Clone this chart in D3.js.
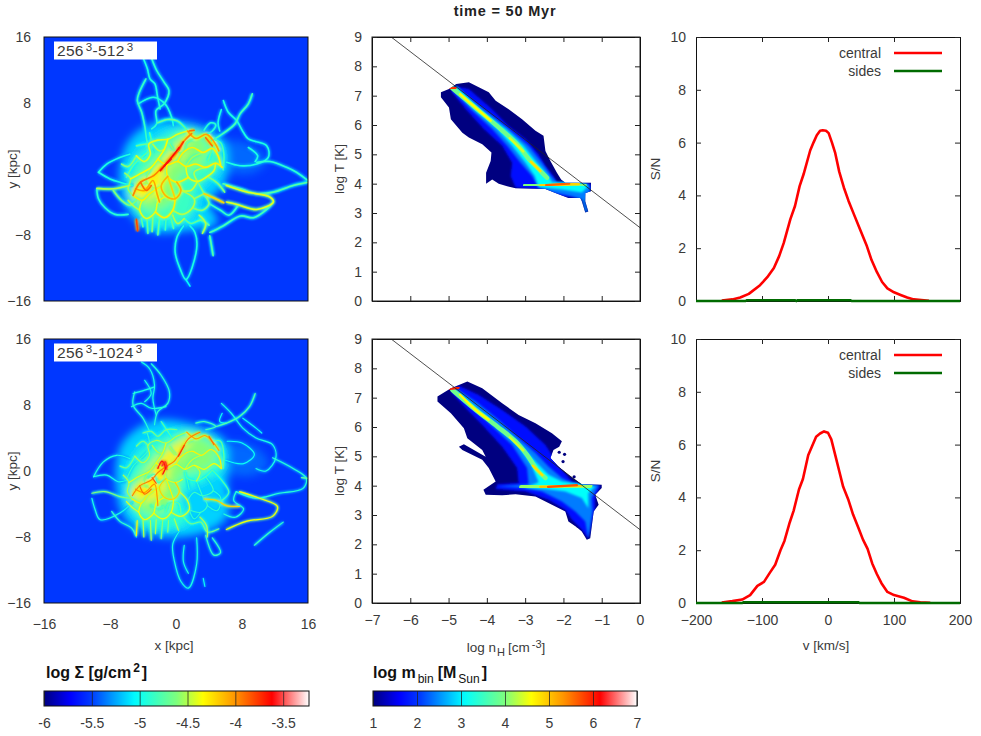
<!DOCTYPE html>
<html>
<head>
<meta charset="utf-8">
<script src="https://cdn.jsdelivr.net/npm/d3@7"></script>
<style>
  body { margin: 0; background: #fff; }
  text { font-family: "Liberation Sans", sans-serif; fill: #3a3a3a; }
  .tick text { font-size: 14px; }
  .domain { stroke: #111; }
  .tick line { stroke: #222; }
  .axisLabel { font-size: 13.5px; text-anchor: middle; }
  .barTitle { font-size: 16px; font-weight: bold; fill: #111; }
</style>
</head>
<body>
<div id="chart"></div>
<script>
// DATA
const title = "time = 50 Myr";
const mapTicks = [-16, -8, 0, 8, 16];
const phaseXTicks = [-7, -6, -5, -4, -3, -2, -1, 0];
const phaseYTicks = [0, 1, 2, 3, 4, 5, 6, 7, 8, 9];
const velTicks = [-200, -100, 0, 100, 200];
const snTicks = [0, 2, 4, 6, 8, 10];
const surfaceTicks = [-6, -5.5, -5, -4.5, -4, -3.5];
const massTicks = [1, 2, 3, 4, 5, 6, 7];

// S/N curves [v, S/N]
const centralTop = [[-161,0.02],[-145,0.06],[-133,0.13],[-120,0.27],[-103,0.6],[-92,0.9],[-82,1.25],[-74,1.7],[-67,2.2],[-57,3.1],[-50,3.6],[-43,4.35],[-37,4.8],[-27,5.7],[-22,6.0],[-17,6.28],[-12,6.45],[-8,6.47],[-3,6.45],[1,6.36],[6,6.0],[11,5.6],[17,4.9],[24,4.3],[31,3.8],[39,3.3],[48,2.75],[59,2.07],[66,1.55],[74,1.1],[82,0.72],[90,0.48],[100,0.33],[110,0.23],[120,0.13],[130,0.06],[153,0.01]];
const centralBottom = [[-161,0.02],[-145,0.07],[-130,0.13],[-118,0.3],[-107,0.65],[-97,0.8],[-88,1.15],[-80,1.45],[-72,2.0],[-66,2.35],[-58,3.05],[-52,3.5],[-44,4.3],[-38,4.7],[-30,5.6],[-24,5.95],[-18,6.3],[-12,6.42],[-6,6.5],[0,6.45],[5,6.2],[11,5.6],[17,5.0],[23,4.4],[31,3.9],[38,3.35],[46,2.85],[53,2.4],[60,2.05],[67,1.5],[74,1.1],[81,0.75],[90,0.42],[100,0.3],[115,0.2],[128,0.06],[140,0.03],[155,0.01]];
const sidesTop = [[-200,0],[-125,0],[-123,0.03],[-50,0.03],[-48,0],[-46,0.03],[34,0.03],[36,0],[200,0]];
const sidesBottom = [[-200,0],[-130,0],[-128,0.03],[46,0.03],[48,0],[200,0]];

// isothermal reference line [log n, log T]
const refLine = [[-6.48,8.98],[0,2.5]];

// phase diagrams: nested outlines [log m, n,T, n,T, ...]
const phaseTop = [
  [1, -4.80,7.40,-4.47,7.46,-4.21,7.29,-3.95,7.12,-3.77,6.83,-3.43,6.54,-3.08,6.20,-2.73,5.80,-2.52,5.63,-2.47,5.11,-2.34,4.77,-2.17,4.37,-2.06,4.14,-1.95,4.03,-1.28,4.03,-1.28,3.74,-1.43,3.68,-1.43,3.40,-1.35,3.05,-1.43,3.02,-1.52,3.40,-1.56,3.51,-1.87,3.51,-2.21,3.68,-2.47,3.82,-3.25,3.84,-3.47,3.91,-3.69,4.00,-3.86,4.14,-4.02,4.00,-4.02,4.37,-3.90,4.77,-3.88,5.06,-4.12,5.34,-4.47,5.57,-4.64,5.74,-4.94,6.20,-4.99,6.60,-5.20,6.95,-5.20,7.12,-4.99,7.23],
  [1.7, -4.83,7.32,-4.47,7.23,-3.86,6.54,-3.43,5.97,-2.99,5.52,-2.65,5.0,-2.47,4.6,-2.26,4.26,-2.17,4.03,-1.52,4.0,-1.29,4.0,-1.29,3.78,-1.52,3.51,-2.04,3.57,-2.43,3.8,-3.25,3.87,-3.38,4.26,-3.34,4.71,-3.6,5.29,-4.08,5.86,-4.55,6.54,-4.94,7.17],
  [2.4, -4.8,7.29,-4.08,6.54,-3.43,5.86,-2.91,5.29,-2.56,4.71,-2.32,4.26,-2.17,4.05,-1.35,4.0,-1.3,3.8,-1.43,3.4,-1.36,3.05,-1.43,3.02,-1.52,3.46,-1.78,3.57,-2.21,3.68,-2.65,3.87,-2.82,4.26,-3.12,4.71,-3.47,5.29,-3.86,5.86,-4.42,6.54,-4.9,7.17],
  [3.1, -4.8,7.32,-4.19,6.54,-3.51,5.86,-3.04,5.29,-2.69,4.71,-2.39,4.26,-2.3,4.05,-1.52,4.03,-1.35,3.91,-1.52,3.7,-2.04,3.8,-2.65,3.89,-2.75,4.26,-2.99,4.71,-3.34,5.29,-3.73,5.86,-4.34,6.54,-4.86,7.23]
];
const phaseBottom = [
  [1, -4.94,7.32,-4.73,7.43,-4.51,7.55,-4.12,7.32,-3.6,6.81,-3.17,6.41,-2.73,6.13,-2.3,5.79,-2.04,5.51,-2.11,5.33,-2.26,5.22,-2.34,4.94,-2.13,4.65,-1.87,4.37,-1.52,4.05,-1.0,4.03,-1.0,3.92,-1.17,3.69,-1.08,3.35,-1.21,3.12,-1.3,2.21,-1.39,2.16,-1.52,2.44,-1.65,2.58,-1.87,2.78,-1.95,3.12,-2.3,3.35,-2.73,3.63,-3.25,3.71,-3.6,3.67,-4.03,3.69,-4.09,3.86,-3.77,4.14,-3.95,4.6,-4.12,4.88,-4.64,5.22,-4.73,5.33,-4.6,5.41,-4.03,4.99,-4.12,5.22,-4.51,5.62,-4.6,5.96,-4.94,6.47,-5.29,6.87,-5.29,7.04],
  [1.7, -4.73,7.41,-4.21,7.09,-3.6,6.58,-2.99,6.02,-2.47,5.39,-2.08,4.6,-1.78,4.14,-1.52,4.03,-1.04,4.01,-1.17,3.58,-1.17,3.23,-1.26,2.78,-1.35,2.19,-1.52,2.5,-1.78,2.84,-1.95,3.18,-2.39,3.52,-2.99,3.8,-3.77,3.89,-3.73,4.05,-3.17,4.09,-3.21,4.6,-3.6,5.33,-4.12,6.07,-4.55,6.64,-4.94,7.19],
  [2.4, -4.8,7.3,-4.29,6.87,-3.69,6.24,-3.17,5.62,-2.73,5.11,-2.39,4.65,-2.04,4.26,-1.78,4.09,-1.08,4.01,-1.26,3.58,-1.24,3.12,-1.35,2.21,-1.43,2.78,-1.69,3.12,-2.04,3.46,-2.56,3.8,-3.17,3.94,-3.73,3.97,-2.91,4.05,-2.95,4.6,-3.34,5.39,-3.86,6.02,-4.38,6.64,-4.9,7.21],
  [3.1, -4.8,7.26,-4.16,6.53,-3.51,5.85,-3.04,5.28,-2.73,4.82,-2.39,4.37,-2.04,4.14,-1.52,4.05,-1.17,3.97,-1.35,3.75,-1.35,3.23,-1.52,3.58,-1.95,3.8,-2.47,3.89,-2.99,3.94,-2.65,4.12,-2.82,4.65,-3.17,5.33,-3.64,5.9,-4.25,6.55,-4.86,7.21]
];
// warm ridges in the phase diagrams [log m, n,T, ...]
const ridgesTop = [
  [3.9, -4.9,7.25,-4.25,6.54,-3.64,5.86,-3.21,5.34,-2.86,4.77,-2.6,4.43,-2.43,4.2],
  [4.6, -4.7,7.05,-4.25,6.54,-3.9,6.15],
  [4.4, -3.4,5.55,-3.05,5.1],
  [4.8, -2.85,4.75,-2.6,4.43],
  [4.0, -3.0,3.93,-1.45,3.97],
  [4.9, -2.6,3.94,-1.6,3.99],
  [5.6, -2.45,3.95,-1.85,4.0],
  [5.9, -4.98,7.25,-4.82,7.27]
];
const ridgesBottom = [
  [3.9, -4.9,7.26,-4.29,6.58,-3.73,6.02,-3.25,5.51,-2.95,5.05,-2.69,4.54,-2.47,4.26],
  [4.6, -4.7,7.1,-4.29,6.58,-3.95,6.25],
  [4.4, -3.4,5.65,-3.05,5.2],
  [4.8, -2.8,4.68,-2.55,4.36],
  [3.2, -3.75,3.97,-2.6,3.97],
  [4.1, -3.1,3.95,-1.3,4.0],
  [5.0, -2.6,3.96,-1.55,4.0],
  [5.7, -2.4,3.96,-1.65,4.02],
  [6.0, -4.96,7.3,-4.74,7.34]
];
// isolated bins of the bottom diagram [log n, log T]
const specksBottom = [[-2.17,5.48],[-2.11,5.14],[-1.97,5.07],[-2.01,4.82],[-1.72,4.3],[-1.62,2.62]];

// surface density map, top: soft patches [log Sigma, x,y, ...]
const patchesTop = [
  [-5.4, 6,3.2,9,3,11,1,9.2,-.5,6,0],
  [-5.15, -6,3,-3,5.5,1.5,5.6,5.8,3.5,6,-1.5,4,-4,5,-6.5,1,-7.5,-3,-7.5,-5.5,-5.5,-6.8,-2.5],
  [-4.85, -5.5,-3,-5,1,-2.5,3.5,1.5,5,5,3,5.3,.3,3,-2,1.5,-6,-3,-6.5,-4.8,-5],
  [-4.6, -5.4,-3.2,-3.6,-.1,-1.5,2,1,4.2,3.5,3.5,3.5,1,.5,-1,-.5,-4,-3,-5],
  [-4.3, -5.3,-3,-4,-1.5,-2,.6,.5,3,1.6,4,.6,1.5,-1,.5,-2,-2.5,-3.8,-3.6]
];
// filaments [log Sigma, x,y, x,y, ...]
const filamentsTop = [
  [-4.95, -3.96,13.4,-3.47,12.15,-3.15,10.93,-2.55,10.32,-2.26,8.91,-1.94,7.29],
  [-4.9, -2.95,13.4,-2.34,11.94,-1.45,10.53,-.85,9.51,-1.45,7.89,-2.42,7.09,-2.34,5.47,-2.95,4.86],
  [-4.85, -3.64,10.93,-4.44,9.31,-4.69,8.3,-4.16,6.88,-3.76,5.06,-3.47,3.24,-2.75,2.02],
  [-4.95, -4.57,7.89,-2.75,8.7,-1.33,7.89,-.53,6.28,-.32,5.26],
  [-4.8, 9.25,9.11,8.77,7.89,7.76,6.68,7.15,5.47,5.33,4.05,4.32,3.44],
  [-4.95, 5.74,8.3,6.34,6.88,7.35,5.87,8.16,4.45,8.77,3.64,10.99,2.83,11.19,1.42,9.78,.61,7.76,.4,6.14,.81],
  [-4.95, 5.5,7.2,5.1,5.6,5.3,4.6],
  [-4.95, 8.77,2.6,9.9,1.6,9.6,.9],
  [-4.9, 16,-1.42,14.6,-.4,13.4,.2,11.4,.9,9.8,.8],
  [-4.75, 16,-1.6,14.2,-2,11.8,-2.8,9.8,-3,7.8,-2.4,5.7,-1.8],
  [-4.4, 6.1,-2,8.6,-2.8,11.4,-3.4,11.8,-4,9.8,-4.9,7.4,-4.3,6.1,-4],
  [-4.8, 11.8,-4,11,-4.9,9.4,-5.9,7.8,-5.7,5.7,-6.9,4.1,-7.7],
  [-4.95, -9.4,-.4,-8.4,.6,-6.8,1.4,-5.6,1.8],
  [-4.95, -9.4,-.4,-8,-1.2,-6.8,-1.6,-5.2,-2],
  [-4.9, -9.6,-2.4,-9.4,-3.6,-8.6,-4.7,-7.4,-5.5,-5.8,-5.5],
  [-4.5, -9.6,-2.35,-7.6,-2.4,-5.6,-2],
  [-4.6, -7.6,-2.6,-6.6,-3.8,-5.6,-4.4,-4.8,-3.8],
  [-4.95, .9,-6.9,.1,-8.3,-.1,-10.1,.5,-12.1,1.2,-13.4,2.5,-9.7,2.3,-7.7,1.7,-6.9],
  [-5.05, 1.2,-13.4,1.7,-14.2],
  [-4.75, 4.1,-8.1,4.5,-10.5],
  [-3.8, -4.8,-6.1,-4.65,-7.5],
  [-4.7, -3.5,-6,-3.4,-7.8],[-4.6, -2.8,-5.8,-2.9,-7.6],[-4.7, -2,-6,-2.2,-8],[-4.8, -1.2,-6,-1.3,-7.4],[-4.7, -.6,-6,-.3,-7.2],[-4.75, -4.2,-6,-4,-7],
  [-4.7, 1,-6,1.8,-6.6,3,-6.2,4,-6.8],
  [-4.5, -.4,-5.6,.2,-6.6,1,-6],
  [-4.5, 2.8,-5.6,3.6,-6.6,3.2,-7.8],
  [-4.85, 4,-4.2,5.4,-5,6.4,-5.6,7.6,-4.3],
  [-4.9, 3.4,4.7,4.2,5.6,4.8,5.4,4.4,4.6,3.7,4.2],
  [-4.7, 1.4,4.6,.2,5.8,-1,6,-2.2,5.6],
  [-4.8, 4.3,3.6,5.4,3.2,5.8,1.8,5.7,-.1],
  [-4.75, -6,-1,-5.2,.4,-4.2,1.4,-3,2.6,-3.2,4.4],
  // web of the disc
  [-4.35, -5.5,-1.2,-4.2,-.5,-3,.2,-2.2,1.2,-1.4,2.4,-1,3.6],
  [-4.4, -4.8,1.6,-3.8,.9,-3.1,1.8,-3.3,3,-2.2,3.5,-1,3.6,.2,4.2,1.4,4.6],
  [-4.3, -2.2,1.2,-1.1,.5,.2,.9,1.2,.3,2.4,.6,3.6,.2,4.8,.7,5.6,.2],
  [-4.3, .2,.9,.9,2,2,2.6,3.3,2,4.4,2.5,5.1,1.6,5.4,.5],
  [-4.05, 1.4,4.6,2.4,3.7,3.7,4.2,4.6,3.3,5.2,2.2],
  [-4.4, 1.2,.3,1.5,-1,2.6,-1.5,3.8,-.9,4.6,-.2,4.8,.7],
  [-4.3, -1.1,.5,-1,-.9,.1,-1.6,1.5,-1],
  [-4.1, -1,-.9,-1.8,-2.1,-1.2,-3.3,-.1,-3.6,.6,-2.6,.1,-1.6],
  [-4.3, -5.2,-3.2,-4.1,-3.8,-3.2,-3,-1.8,-2.1],
  [-4.4, -4.1,-3.8,-4.4,-5,-3.6,-6,-2.5,-5.2,-2.2,-4,-1.2,-3.3],
  [-4.3, -2.5,-5.2,-1.4,-5.9,-.4,-5,-.1,-3.6],
  [-4.5, -.4,-5,.8,-5.5,2,-4.7,2.2,-3.6,.6,-2.6],
  [-4.6, 2,-4.7,3.2,-5,4,-4.2,3.4,-3,2.6,-1.5],
  [-4.2, 3.4,-3,4.8,-3.6,5.8,-4.1],
  [-4.6, 3.8,-.9,5,-1.7,5.9,-2.8],
  [-4.55, 2.2,-3.6,3.4,-3],
  [-4.55, 1.2,.3,2,1.4,3.3,2],
  [-4.5, 2.6,-1.5,2.2,-.4,3.6,.2],
  [-4.45, .6,-2.6,1.8,-2.6,2.6,-1.5],
  [-4.6, -.8,3.1,-.1,2.2,.9,2,1.3,3.3,2.4,3.7],
  [-4.5, -2.8,3,-2,2.2,-1.4,2.4],
  [-4.5, -4.6,-2.2,-3.6,-1.7,-2.7,-2.3,-1.8,-2.1],
  [-4.5, -5.8,-3.8,-5,-4.6,-4.4,-5],
  [-4.55, -3,.2,-3.6,-1.1,-3.6,-1.7],
  [-4.2, -1,-.9,-.6,-2.1,-.1,-3.6],
  [-4.55, -6.2,-.5,-5.5,-1.2,-5.8,-2.4,-5.2,-3.2],
  [-4.6, -6.6,.6,-5.8,.3,-4.8,1.6],
  [-4.7, -4.8,2.8,-3.8,3,-3.3,3],
  [-4.7, 3.9,1,4.4,2.5],
  // dense diagonal band
  [-3.95, -5.2,-3.2,-4.3,-1.6,-2.7,-.8,-1.7,.2,-.7,1.2,.3,2.2,.9,3.3,1.9,4.3],
  [-4.05, -4.9,-2.4,-3.8,-2.6,-2.8,-1.4,-2.3,-3,-2,-4],
  [-3.9, -4.3,-1.6,-3.6,-2.6,-3,-2],
  [-3.65, -1.9,-.2,-.7,1.2,.4,2.6],
  [-3.6, -1.4,.4,-.6,1.2],
  [-3.75, .3,2.4,.9,3.3],
  [-3.9, 3.6,3.8,4.4,2.8],
  [-3.9, 1.6,4.6,2.2,4.7]
];

// surface density map, bottom
const patchesBottom = [
  [-5.4, 6.2,3.2,9.5,3,11.2,.8,9,-.6,6.2,0],
  [-5.15, -6.6,3.2,-3,6,1.5,5.8,6,3.6,6.2,-1.4,6.2,-5.5,3,-7.6,-3,-7.8,-6,-6,-7.2,-2.5],
  [-4.9, -5.8,-3,-5.2,1.4,-2.6,3.8,1.6,5,5.2,3.2,5.6,.3,3,-1.4,.6,-3,1.4,-6.2,-3,-6.8,-5,-5.2],
  [-4.6, -5.6,-3.2,-4,.4,-1.6,2.8,1.4,4.4,4.6,3,4.4,.6,.6,-.8,-.2,-4,-3,-5.4],
  [-4.3, -5.5,-2.6,-3.9,-1.2,-2.4,1,-1,2.4,.8,3.6,1.9,4.2,.6,2,-.6,.9,-1.6,-2.4,-3.8,-3.6]
];
const filamentsBottom = [
  [-4.95, -4.2,13.2,-3.2,12.4,-2.6,10.4,-2.8,8.8,-2.4,6.8],
  [-4.9, -3,13,-1.8,11.6,-.8,9.6,-1,8.2,-2.2,7.2,-2.6,5.6],
  [-4.9, -5,9.6,-5.2,8,-4,6.4,-3.2,4.8],
  [-4.95, -5.2,9.4,-3.8,9.8,-2.6,10.2],
  [-4.95, -5.4,7.8,-4.2,8.2,-3,7.6,-1.2,7.8],
  [-4.95, -3.8,11,-3,9.4,-3.8,8.4],
  [-4.75, 9.6,9.4,8.9,7.8,7.7,6.6,6.1,5.8,4.9,5.4],
  [-4.95, 5.5,8.2,6.7,7,8.1,5.2,9.7,4,11.7,3.2,12.1,1.6,10.9,0,9.7,.3],
  [-5, 5.6,7,5.3,6,6.1,5.8],
  [-5, 8.1,6.4,9.7,5.2,10.4,4.6],
  [-5, 6.2,3.6,8,3.4,9.5,2,8.2,.9,6,1.3],
  [-4.9, 11.7,1.6,14.2,.3,15.8,-.9,15.4,-2.1,12.5,-2.7,9.7,-3.3,7.3,-2.5],
  [-4.7, 16,-.9,15.2,-.8],
  [-4.35, 7.7,-2.5,10.1,-3.3,12.3,-4.3,11.7,-5.5,8.5,-6.1,6.1,-7.1],
  [-4.85, 13,-6.2,11.4,-7.4,9.5,-9],
  [-4.9, 7.3,-2.5,7,-3.6,8.2,-4.6,7.2,-5.6,5.8,-5.2],
  [-4.95, -10.2,-3.3,-9.8,-4.7,-9.2,-5.9,-6.8,-5.1,-5.2,-3.7],
  [-4.95, -10,-.7,-8.8,1.1,-7.2,1.9,-5.6,1.5],
  [-4.95, -10,-.7,-8.4,-.5,-7,-1.3,-5.8,-1.1],
  [-4.6, -10.2,-2.7,-8.6,-2.5,-6.8,-3.1,-5.4,-3.3],
  [-4.85, -7.8,-4.9,-6.8,-6.1,-5.4,-6.9,-4.8,-8],
  [-4.95, .4,-7.3,-.4,-8.9,-.2,-10.9,.6,-13.4,1.5,-14.2,2.5,-11.3,2.5,-8.1],
  [-4.95, 1,-9,.9,-11,1.5,-12.4],
  [-4.85, 3.6,-7.8,4.6,-10.2,5.4,-9.9,4.4,-8.1],
  [-5, 3.3,-13,3.5,-14],
  [-4.3, -4.7,-6,-4.8,-7.8],[-4.5, -4,-5.8,-3.9,-8],[-4.5, -3.1,-6,-3,-8.4],[-4.5, -2.4,-5.9,-2.5,-7.6],[-4.6, -1.6,-5.8,-1.8,-8.2],[-4.6, -.9,-6,-1,-7.4],[-4.5, -.2,-5.8,.3,-7.2],
  [-4.65, .8,-5.4,1.8,-6.4,3,-6.2,3.8,-7.4,5.2,-7],
  [-4.5, 2.9,-5.6,3.7,-6.6,3.8,-8],
  // web of the disc
  [-4.4, -5.7,-1.4,-4.4,-.6,-3.3,-.1,-2.4,1,-1.6,2.2,-1.2,3.4],
  [-4.5, -5,1.8,-4,1,-3.2,1.9,-3.4,3.1,-2.4,3.7,-1.2,3.4,.1,4.2,1.3,4.7],
  [-4.35, -2.4,1,-1.3,.2,0,.8,1.1,.2,2.2,.7,3.4,.2,4.6,.9,5.5,.3],
  [-4.3, 0,.8,.7,1.8,1.9,2.4,3.1,1.9,4.2,2.6,5.2,1.7,5.5,.3],
  [-4.05, 1.3,4.7,2.4,3.9,3.5,4.3,4.4,3.6,5.2,2.5],
  [-4.75, 1.1,.2,1.3,-.8,2.5,-1.2,3.6,-.7,4.4,.1],
  [-4.4, -1.3,.2,-1.2,-.9,-.1,-1.4,.8,-1],
  [-4.2, -1.2,-.9,-2,-2,-1.4,-3.2,-.3,-3.4,.4,-2.5,-.1,-1.4],
  [-4.3, -5.3,-3.4,-4.2,-3.9,-3.4,-2.9,-2,-2],
  [-4.35, -4.2,-3.9,-4.5,-5,-3.8,-5.9,-2.7,-5.1,-2.4,-3.9,-1.4,-3.2],
  [-4.35, -2.7,-5.1,-1.6,-5.8,-.6,-5,-.3,-3.4],
  [-4.4, -.6,-5,.6,-5.5,1.6,-4.7,1.4,-3.6,.4,-2.5],
  [-4.85, 1.6,-4.7,3,-5,3.8,-4.2,3.2,-3,2.5,-1.2],
  [-4.85, 1.4,-3.6,2.2,-2.6,3.2,-3,4.5,-2.4,3.6,-.7],
  [-4.85, 1.6,-2.2,1.3,-.8],
  [-4.9, 3.8,-4.2,5,-4.8,5.4,-3.2,4.5,-2.4],
  [-4.9, 1.6,-4.7,2.2,-5.8,3,-5],
  [-4.75, 4.4,.1,5.6,-1.2,6.4,-2.6,5.5,-3.6],
  [-4.2, 3.4,-3.4,5,-3.6,6.1,-4.2,7.7,-4.3],
  [-4.5, -.8,3,-.1,2.1,.7,1.8,1.1,3.2,2.4,3.9],
  [-4.5, -2.9,3.1,-2.1,2.2,-1.6,2.2],
  [-4.45, 1.1,.2,1.9,1.3,3.1,1.9],
  [-4.45, 2.2,.7,2.9,-.1,2.5,-1.2],
  [-4.5, -4.8,-2.2,-3.8,-1.7,-2.9,-2.3,-2,-2],
  [-4.4, -6,-3.7,-5.2,-4.5,-4.5,-5],
  [-4.55, -3.3,-.1,-3.8,-1.1,-3.8,-1.7],
  [-4.3, -1.2,-.9,-.8,-2,-.3,-3.4],
  [-4.5, -6.4,-.5,-5.7,-1.4,-5.9,-2.5,-5.3,-3.4],
  [-4.65, -6.8,.6,-6,.4,-5,1.8],
  [-4.6, -4.8,3,-4,3.6,-3.4,3.1],
  [-4.65, -4,4.6,-3,4.8,-2.2,4.2,-1.2,5,.1,5],
  [-4.8, 2.4,5.8,3.4,6,4.8,5.4,3.6,5],
  [-4.7, 4.4,3.6,5.4,3.6,5.8,1.9,5.7,.3],
  [-4.75, -.4,3.9,-1,4.8,-1.8,6],
  [-4.85, -6,-1,-5.2,.6,-4.4,1.4,-3.2,2.8,-3.5,4.6],
  [-4.75, -3.4,-.9,-2.6,-.4,-2.2,-1.4,-1.2,-.9],
  [-4.7, -3.1,-4.1,-2.2,-4.6,-1.4,-4.2],
  [-4.7, -1.2,-5,-.8,-3.9,.3,-3.9,.6,-5.2],
  // dense diagonal band
  [-3.95, -5.3,-3,-4.4,-1.8,-3,-1.1,-2.2,-.2,-1.1,.6,-.2,1.2,.7,2.6,1.5,3.9,2.9,4.7],
  [-4, -4.9,-2.2,-3.8,-2.6,-2.6,-1.6,-2.3,-3,-2.2,-4.2],
  [-3.9, -4.4,-1.8,-3.8,-2.8,-3,-2.2],
  [-3.6, -2.2,.3,-1.7,1.2,-1.3,.4,-1.6,-.4,-1.1,.6],
  [-3.55, -1.7,.6,-1.3,1.1,-1.1,.2],
  [-3.75, .3,1.8,1,3.1],
  [-3.9, 4,4.2,4.6,3.2],
  [-3.85, -2.9,-.8,-2.4,-1.5]
];

// COLOUR
const stopPos = [0, .1, .18, .345, .5, .6, .72, .86, 1];
const stopCol = ["#000080", "#0000ff", "#003cff", "#00ffff", "#7dff7d", "#ffff00", "#ff9600", "#ff0000", "#ffffff"];
const jet = d3.scaleLinear().domain(stopPos).range(stopCol).clamp(true);
const surfaceColor = d3.scaleLinear().domain([-6, -3.23]).range([0, 1]);
const massColor = d3.scaleLinear().domain([1, 7]).range([0, 1]);

const svg = d3.select("#chart").append("svg").attr("width", 981).attr("height", 736);
const defs = svg.append("defs");
[["soft4", 4.5], ["soft2", 1.3], ["soft1", .55], ["soft0", .3]].forEach(([id, s]) => {
  defs.append("filter").attr("id", id)
    .attr("x", "-20%").attr("y", "-20%").attr("width", "140%").attr("height", "140%")
    .append("feGaussianBlur").attr("stdDeviation", s);
});

const rowsY = [{top: 37, bottom: 301}, {top: 339, bottom: 603}];
const line = (xs, ys) => d3.line().x(d => xs(d[0])).y(d => ys(d[1]));
const pairs = row => d3.range(1, row.length, 2).map(i => [row[i], row[i + 1]]);

// frame with inward ticks on all four sides, labels only where asked
function frame(g, xs, ys, xTicks, yTicks, showX) {
  const [x0, x1] = xs.range();
  const [y1, y0] = ys.range();
  const size = 5;
  const bottom = d3.axisBottom(xs).tickValues(xTicks).tickSize(-size).tickPadding(12).tickFormat(d3.format("d"));
  if (!showX) bottom.tickFormat("");
  g.append("g").attr("transform", `translate(0,${y1})`).call(bottom);
  g.append("g").attr("transform", `translate(0,${y0})`)
    .call(d3.axisTop(xs).tickValues(xTicks).tickSize(-size).tickFormat(""));
  g.append("g").attr("transform", `translate(${x0},0)`)
    .call(d3.axisLeft(ys).tickValues(yTicks).tickSize(-size).tickPadding(10).tickFormat(d3.format("d")));
  g.append("g").attr("transform", `translate(${x1},0)`)
    .call(d3.axisRight(ys).tickValues(yTicks).tickSize(-size).tickFormat(""));
}

function drawMap(row, left, patches, filaments, label, showX, thin) {
  const xs = d3.scaleLinear().domain([-16, 16]).range([left, left + 264]);
  const ys = d3.scaleLinear().domain([-16, 16]).range([row.bottom, row.top]);
  const path = line(xs, ys).curve(d3.curveCatmullRom.alpha(.5));
  const id = "clip" + row.top;
  defs.append("clipPath").attr("id", id).append("rect")
    .attr("x", left).attr("y", row.top).attr("width", 264).attr("height", 264);
  const g = svg.append("g");
  const img = g.append("g").attr("clip-path", `url(#${id})`);
  img.append("rect").attr("x", left).attr("y", row.top).attr("width", 264).attr("height", 264)
    .attr("fill", jet(surfaceColor(-5.52)));
  img.append("g").attr("filter", "url(#soft4)").selectAll("path").data(patches).join("path")
    .attr("d", d => path.curve(d3.curveCatmullRomClosed)(pairs(d)))
    .attr("fill", d => jet(surfaceColor(d[0])));
  path.curve(d3.curveCatmullRom.alpha(.5));
  const sorted = filaments.slice().sort((a, b) => a[0] - b[0]);
  const base = thin ? 1.15 : 1.6;
  img.append("g").attr("filter", "url(#soft2)").attr("fill", "none").selectAll("path").data(sorted).join("path")
    .attr("d", d => path(pairs(d)))
    .attr("stroke", d => jet(surfaceColor(d[0] - .3)))
    .attr("stroke-width", base * 2.1);
  img.append("g").attr("filter", "url(#soft0)").attr("fill", "none").attr("stroke-linecap", "round")
    .selectAll("path").data(sorted).join("path")
    .attr("d", d => path(pairs(d)))
    .attr("stroke", d => jet(surfaceColor(d[0])))
    .attr("stroke-width", base);
  g.append("rect").attr("x", left).attr("y", row.top).attr("width", 264).attr("height", 264)
    .attr("fill", "none").attr("stroke", "#111").attr("stroke-width", 1);
  g.selectAll(null).data(ys.ticks(0)).join("g");
  const ax = g.append("g");
  ax.append("g").attr("transform", `translate(${left},0)`)
    .call(d3.axisLeft(ys).tickValues(mapTicks).tickSize(0).tickPadding(13).tickFormat(d3.format("d")))
    .select(".domain").remove();
  if (showX) {
    ax.append("g").attr("transform", `translate(0,${row.bottom})`)
      .call(d3.axisBottom(xs).tickValues(mapTicks).tickSize(0).tickPadding(16).tickFormat(d3.format("d")))
      .select(".domain").remove();
  }
  g.append("rect").attr("x", left + 10).attr("y", row.top + 4.5).attr("width", 103).attr("height", 18).attr("fill", "#fff");
  const t = g.append("text").attr("x", left + 13).attr("y", row.top + 19).style("font-size", "15.5px").style("letter-spacing", ".3px");
  t.append("tspan").text("256");
  t.append("tspan").attr("dy", -5).attr("dx", 2).style("font-size", "11.5px").text("3");
  t.append("tspan").attr("dy", 5).text("-" + label);
  t.append("tspan").attr("dy", -5).attr("dx", 2).style("font-size", "11.5px").text("3");
  g.append("text").attr("class", "axisLabel").attr("transform", `translate(${left - 27},${(row.top + row.bottom) / 2}) rotate(-90)`).text("y [kpc]");
}

function drawPhase(row, outlines, ridges, specks, showX) {
  const xs = d3.scaleLinear().domain([-7, 0]).range([372, 640]);
  const ys = d3.scaleLinear().domain([0, 9]).range([row.bottom, row.top]);
  const path = line(xs, ys);
  const id = "phase" + row.top;
  defs.append("clipPath").attr("id", id).append("path").attr("d", path(pairs(outlines[0])) + "Z");
  const g = svg.append("g");
  g.append("path").attr("d", path(pairs(outlines[0])) + "Z").attr("fill", jet(massColor(outlines[0][0])));
  g.selectAll(null).data(specks).join("circle")
    .attr("cx", d => xs(d[0])).attr("cy", d => ys(d[1])).attr("r", 1.6).attr("fill", jet(massColor(1)));
  const inner = g.append("g").attr("clip-path", `url(#${id})`);
  inner.append("g").selectAll("path").data(outlines.slice(1)).join("path")
    .attr("filter", "url(#soft2)")
    .attr("d", d => path(pairs(d)) + "Z")
    .attr("fill", d => jet(massColor(d[0])));
  inner.append("g").attr("fill", "none").attr("stroke-linecap", "round").selectAll("path").data(ridges).join("path")
    .attr("filter", "url(#soft1)")
    .attr("d", d => path.curve(d3.curveCatmullRom)(pairs(d)))
    .attr("stroke", d => jet(massColor(d[0])))
    .attr("stroke-width", d => d[0] < 4.2 && d[0] > 3.5 ? 4.5 : 2.4);
  path.curve(d3.curveLinear);
  g.append("path").attr("d", path(refLine)).attr("fill", "none").attr("stroke", "#222").attr("stroke-width", .8);
  g.append("rect").attr("x", 372).attr("y", row.top).attr("width", 268).attr("height", row.bottom - row.top)
    .attr("fill", "none").attr("stroke", "#222");
  frame(g, xs, ys, phaseXTicks, phaseYTicks, showX);
  g.append("text").attr("class", "axisLabel").attr("transform", `translate(344,${(row.top + row.bottom) / 2}) rotate(-90)`).text("log T [K]");
}

function drawSpectrum(row, central, sides, showX) {
  const xs = d3.scaleLinear().domain([-200, 200]).range([696, 960]);
  const ys = d3.scaleLinear().domain([0, 10]).range([row.bottom, row.top]);
  const path = line(xs, ys).curve(d3.curveLinear);
  const g = svg.append("g");
  frame(g, xs, ys, velTicks, snTicks, showX);
  g.append("path").attr("d", path(central)).attr("fill", "none").attr("stroke", "#ff0000").attr("stroke-width", 2.6).attr("stroke-linejoin", "round");
  g.append("path").attr("d", path(sides)).attr("fill", "none").attr("stroke", "#006b00").attr("stroke-width", 2.6);
  const legend = [["central", "#ff0000"], ["sides", "#006b00"]];
  legend.forEach(([name, col], i) => {
    const yy = row.top + 16 + i * 18;
    g.append("text").attr("x", 881).attr("y", yy + 5).attr("text-anchor", "end").style("font-size", "14px").text(name);
    g.append("line").attr("x1", 894).attr("x2", 942).attr("y1", yy).attr("y2", yy).attr("stroke", col).attr("stroke-width", 2.6);
  });
  g.append("text").attr("class", "axisLabel").attr("transform", `translate(660,${(row.top + row.bottom) / 2}) rotate(-90)`).text("S/N");
}

function drawBar(left, right, domain, ticks, scale, fmt) {
  const xs = d3.scaleLinear().domain(domain).range([left, right]);
  const id = "bar" + left;
  const grad = defs.append("linearGradient").attr("id", id);
  d3.range(0, 1.001, .02).forEach(t => grad.append("stop").attr("offset", t).attr("stop-color", jet(t)));
  const g = svg.append("g").attr("transform", "translate(0,691)");
  g.append("rect").attr("x", left).attr("width", right - left).attr("height", 15)
    .attr("fill", `url(#${id})`).attr("stroke", "#111");
  const axis = g.append("g").attr("transform", "translate(0,15)")
    .call(d3.axisBottom(xs).tickValues(ticks).tickSize(-15).tickPadding(12).tickFormat(fmt));
  axis.select(".domain").remove();
  axis.selectAll(".tick line").attr("stroke", "#111").attr("stroke-opacity", .75);
}

// PANELS
drawMap(rowsY[0], 44, patchesTop, filamentsTop, "512", false, false);
drawMap(rowsY[1], 44, patchesBottom, filamentsBottom, "1024", true, true);
drawPhase(rowsY[0], phaseTop, ridgesTop, [], false);
drawPhase(rowsY[1], phaseBottom, ridgesBottom, specksBottom, true);
drawSpectrum(rowsY[0], centralTop, sidesTop, false);
drawSpectrum(rowsY[1], centralBottom, sidesBottom, true);

drawBar(44, 309, [-6, -3.23], surfaceTicks, surfaceColor, d => d);
drawBar(373, 637, [1, 7], massTicks, massColor, d3.format("d"));

// TEXT
svg.append("text").attr("x", 505).attr("y", 16).attr("text-anchor", "middle")
  .style("font-size", "14.5px").style("font-weight", "bold").style("letter-spacing", ".8px").style("fill", "#222").text(title);
svg.append("text").attr("class", "axisLabel").attr("x", 174).attr("y", 650).text("x [kpc]");
const nLabel = svg.append("text").attr("class", "axisLabel").attr("x", 506).attr("y", 652);
nLabel.append("tspan").text("log n");
nLabel.append("tspan").attr("dy", 4).attr("dx", 1).style("font-size", "11px").text("H");
nLabel.append("tspan").attr("dy", -4).attr("dx", 3).text("[cm");
nLabel.append("tspan").attr("dy", -4).attr("dx", 2).style("font-size", "11px").text("-3");
nLabel.append("tspan").attr("dy", 4).text("]");
svg.append("text").attr("class", "axisLabel").attr("x", 826).attr("y", 650).text("v [km/s]");

const s1 = svg.append("text").attr("class", "barTitle").attr("x", 46).attr("y", 678);
s1.append("tspan").text("log Σ [g/cm");
s1.append("tspan").attr("dy", -6).attr("dx", 2).style("font-size", "12px").text("2");
s1.append("tspan").attr("dy", 6).attr("dx", 2).text("]");
const s2 = svg.append("text").attr("class", "barTitle").attr("x", 373).attr("y", 678);
s2.append("tspan").text("log m");
s2.append("tspan").attr("dy", 5).attr("dx", 2).style("font-size", "12px").style("font-weight", "normal").text("bin");
s2.append("tspan").attr("dy", -5).attr("dx", 4).text("[M");
s2.append("tspan").attr("dy", 5).attr("dx", 2).style("font-size", "12px").style("font-weight", "normal").text("Sun");
s2.append("tspan").attr("dy", -5).attr("dx", 2).text("]");
</script>
</body>
</html>
